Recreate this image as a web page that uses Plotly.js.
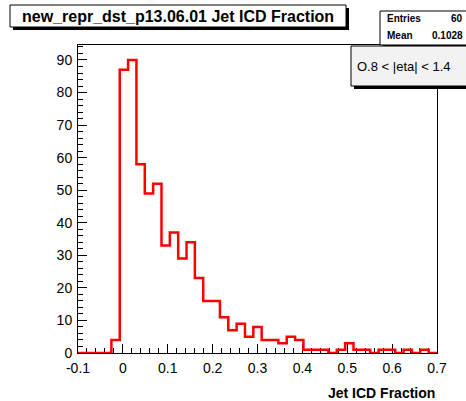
<!DOCTYPE html>
<html>
<head>
<meta charset="utf-8">
<script src="https://cdn.plot.ly/plotly-3.0.1.min.js"></script>
<style>html,body{margin:0;padding:0;background:#fff;}#chart{width:466px;height:401px;}</style>
</head>
<body>
<div id="chart"></div>
<script>
// Histogram definition
const histTitle = "new_repr_dst_p13.06.01 Jet ICD Fraction";
const xLabel = "Jet ICD Fraction";
const legendText = "O.8 < |eta| < 1.4";
const statNames = ["Entries", "Mean"];
const statValues = ["60", "0.1028"];
const xMin = -0.1, xMax = 0.7, nBins = 43;
const counts = [0,0,0,0,4,87,90,58,49,52,33,37,29,34,23,16,16,11,7,9,5,8,4,4,3,5,4,1,1,1,0,1,3,1,1,0,1,1,0,1,0,1,0];
const xTicks = [-0.1,0,0.1,0.2,0.3,0.4,0.5,0.6,0.7];
const yTicks = [0,10,20,30,40,50,60,70,80,90];

const W = 466, H = 401;
const M = {l:78, r:29, t:45, b:48};
const pw = W - M.l - M.r, ph = H - M.t - M.b;
const px = x => (x - M.l) / pw;
const py = y => (H - M.b - y) / ph;

const bw = (xMax - xMin) / nBins;
const xs = [], ys = [];
for (let i = 0; i <= nBins; i++) {
  xs.push(xMin + i * bw);
  ys.push(i < nBins ? counts[i] : counts[nBins - 1]);
}

const trace = {
  type: 'scatter', mode: 'lines', x: xs, y: ys,
  line: {shape: 'hv', color: '#ff0000', width: 2.5},
  cliponaxis: false, hoverinfo: 'skip'
};

function rect(x0, y0, x1, y1, fill, lw) {
  return {type:'rect', xref:'paper', yref:'paper', x0:px(x0), x1:px(x1), y0:py(y1), y1:py(y0),
    fillcolor: fill, line:{color:'#000', width: lw}, layer:'above'};
}
function shadow(x0, y0, x1, y1) {
  return {type:'rect', xref:'paper', yref:'paper', x0:px(x0), x1:px(x1), y0:py(y1), y1:py(y0),
    fillcolor:'#000', line:{width:0}, layer:'above'};
}

const shapes = [
  // title box
  shadow(13, 8, 349, 30),
  rect(10, 5, 346, 27, '#fff', 1),
  // stats box
  shadow(383, 14, 470, 48),
  rect(380, 11, 470, 45, '#fff', 1),
  // legend box
  shadow(354, 49, 470, 89),
  rect(351, 46, 470, 86, '#f2f2f2', 1)
];

const ann = (x, y, text, opts) => Object.assign({
  xref:'paper', yref:'paper', x:px(x), y:py(y), text:text, showarrow:false,
  font:{family:'Liberation Sans, Arial, sans-serif', size:13, color:'#000'}
}, opts);
const sf = {family:'Liberation Sans, Arial, sans-serif', size:10, color:'#000'};

const annotations = [
  ann(20, 16.5, "<b>" + histTitle + "</b>", {xanchor:'left', yanchor:'middle', font:{family:'Liberation Sans, Arial, sans-serif', size:16, color:'#000'}}),
  ann(385, 19, "<b>" + statNames[0] + "</b>", {xanchor:'left', yanchor:'middle', font:sf}),
  ann(465, 19, "<b>" + statValues[0] + "</b>", {xanchor:'right', yanchor:'middle', font:sf}),
  ann(385, 36, "<b>" + statNames[1] + "</b>", {xanchor:'left', yanchor:'middle', font:sf}),
  ann(465, 36, "<b>" + statValues[1] + "</b>", {xanchor:'right', yanchor:'middle', font:sf}),
  ann(355, 67, legendText, {xanchor:'left', yanchor:'middle', font:{family:'Liberation Sans, Arial, sans-serif', size:13, color:'#000'}}),
  ann(437, 393, "<b>" + xLabel + "</b>", {xanchor:'right', yanchor:'middle', font:{family:'Liberation Sans, Arial, sans-serif', size:14, color:'#000'}})
];

const layout = {
  width: W, height: H,
  margin: {l:M.l, r:M.r, t:M.t, b:M.b, pad:0},
  paper_bgcolor:'#fff', plot_bgcolor:'#fff',
  showlegend:false,
  font:{family:'Liberation Sans, Arial, sans-serif', size:14, color:'#000'},
  xaxis: {
    range:[xMin, xMax], tickvals:xTicks, ticktext:xTicks.map(String),
    ticks:'inside', ticklen:9, tickwidth:1, tickcolor:'#000',
    minor:{dtick:0.02, tick0:0, ticks:'inside', ticklen:5, tickcolor:'#000', tickwidth:1},
    showline:true, linecolor:'#000', linewidth:1, mirror:true,
    showgrid:false, zeroline:false, layer:'below traces',
    tickfont:{size:14}, ticklabelstandoff:2
  },
  yaxis: {
    range:[0, 94.6], tickvals:yTicks, ticktext:yTicks.map(String),
    ticks:'inside', ticklen:9, tickwidth:1, tickcolor:'#000',
    minor:{dtick:2, tick0:0, ticks:'inside', ticklen:5, tickcolor:'#000', tickwidth:1},
    showline:true, linecolor:'#000', linewidth:1, mirror:true,
    showgrid:false, zeroline:false, layer:'below traces',
    tickfont:{size:14}, ticklabelstandoff:2
  },
  shapes: shapes,
  annotations: annotations
};

Plotly.newPlot('chart', [trace], layout, {staticPlot:true, displayModeBar:false});
</script>
</body>
</html>
